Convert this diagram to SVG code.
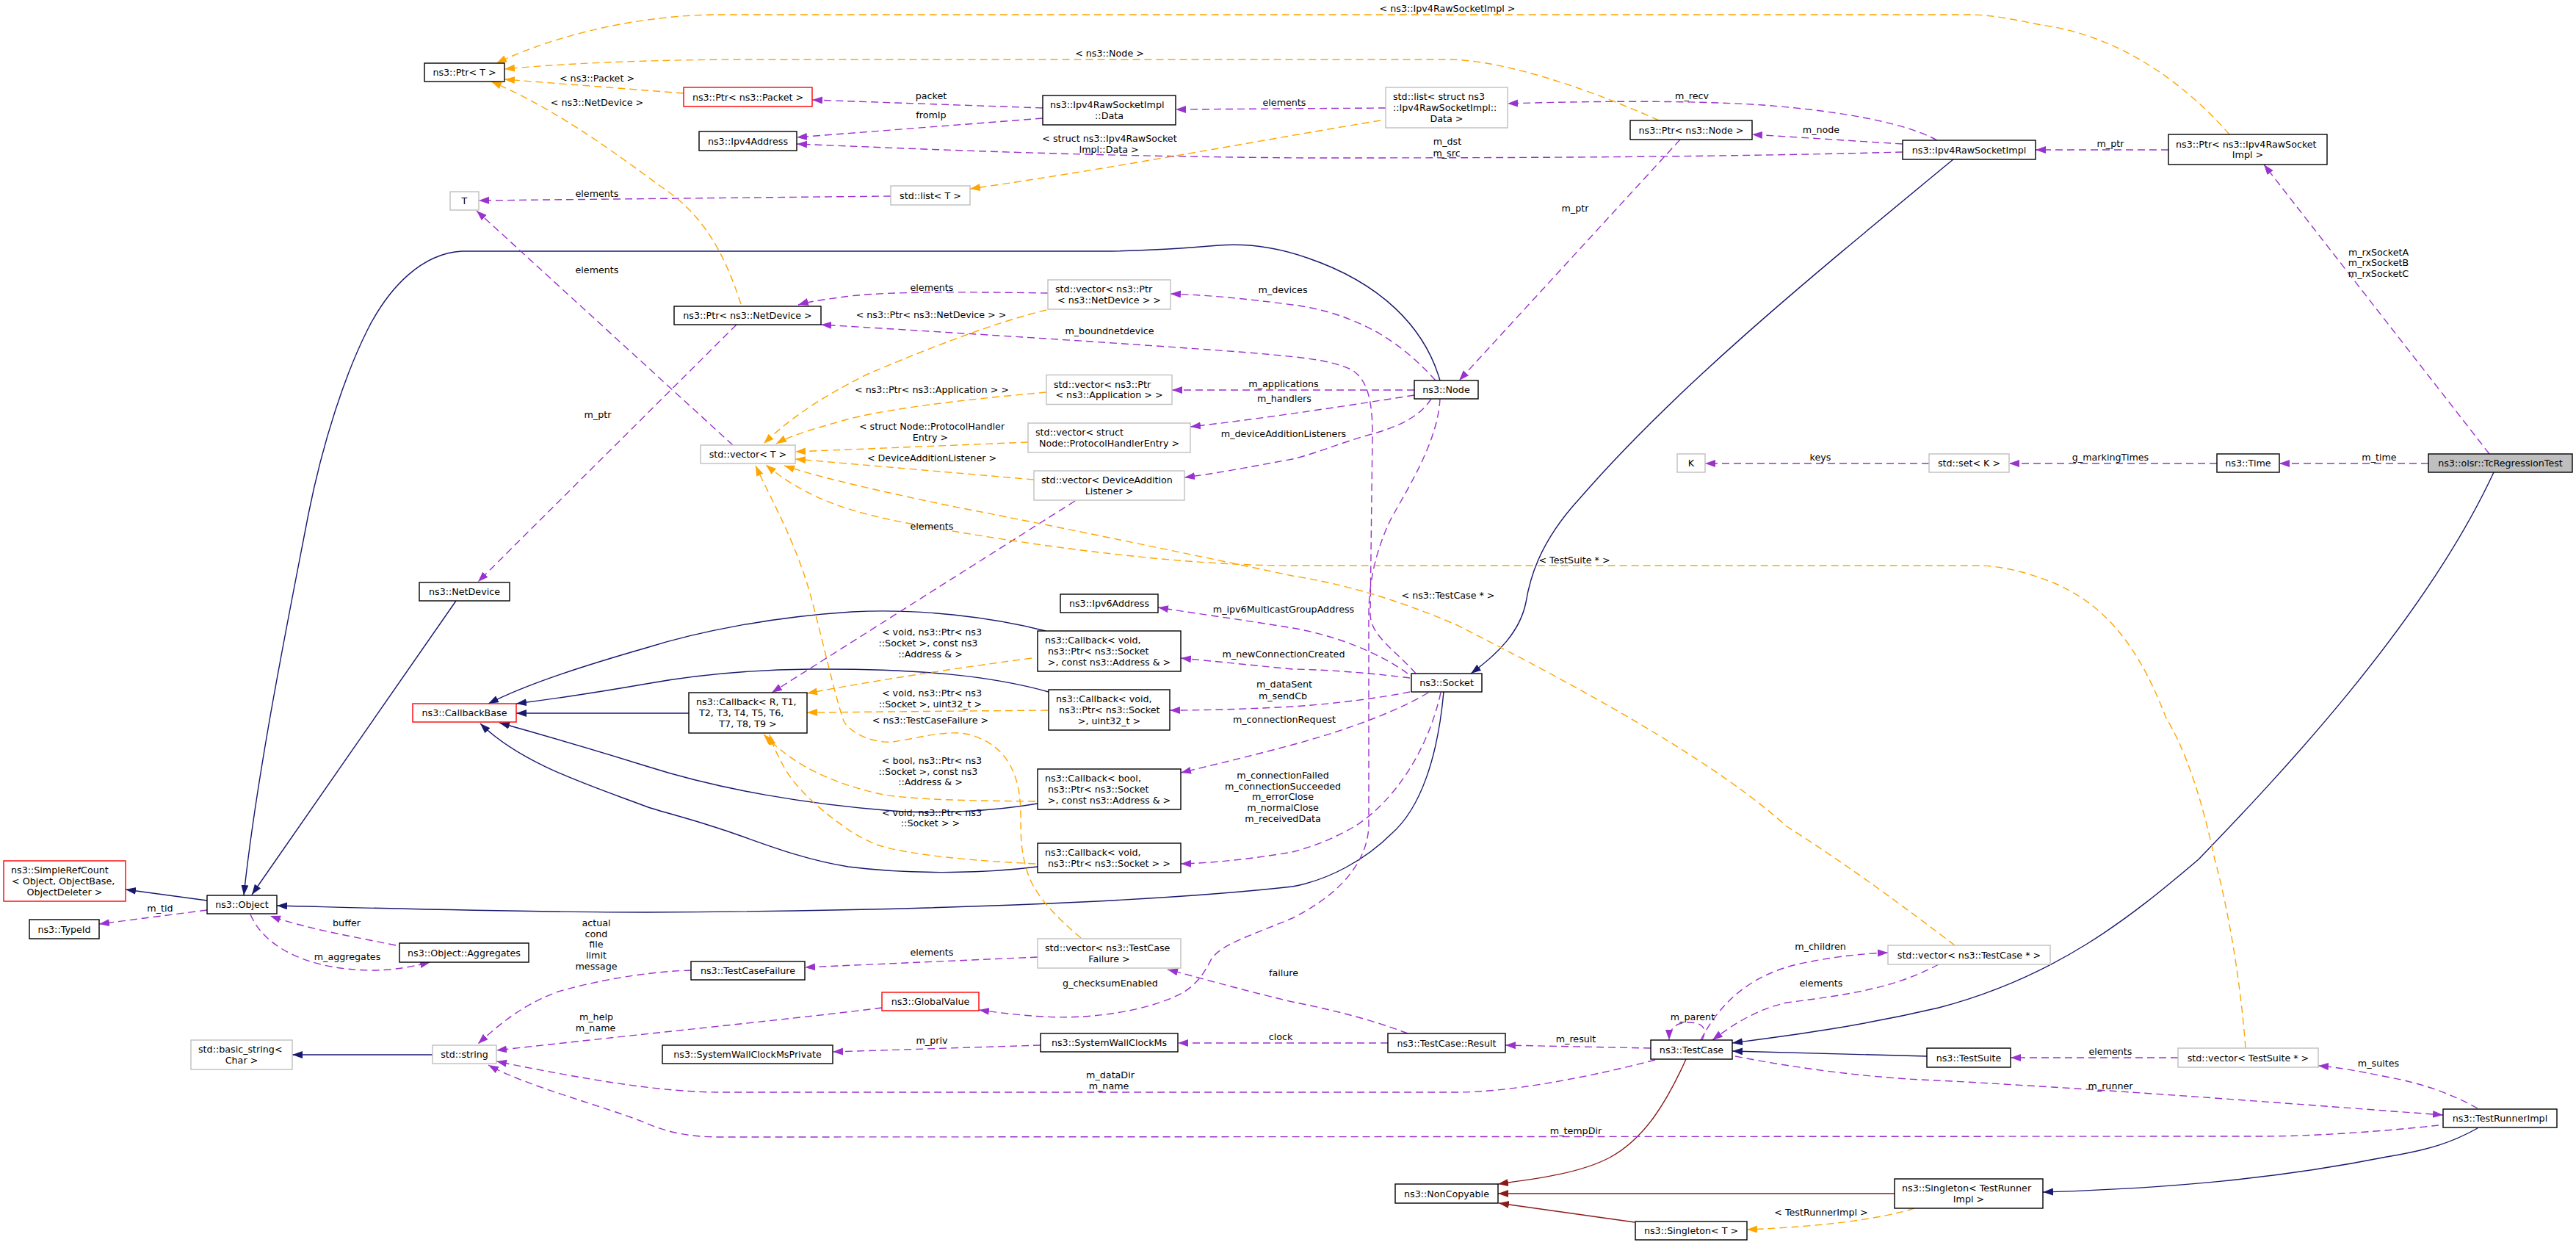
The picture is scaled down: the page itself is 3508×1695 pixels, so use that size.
<svg xmlns="http://www.w3.org/2000/svg" width="3508" height="1695" viewBox="0 0 3508 1695">
<style>
text{font-family:"DejaVu Sans","Liberation Sans",sans-serif;font-size:12.7px;fill:#000}
.n rect{fill:#fff;stroke:#000;stroke-width:1.4}
.g rect{fill:#fff;stroke:#bfbfbf;stroke-width:1.4}
.r rect{fill:#fff;stroke:#ff0000;stroke-width:1.4}
.c{text-anchor:middle}
#edges path{fill:none;stroke-width:1.4}
.inh{stroke:#191970;marker-end:url(#ab)}
.use{stroke:#9a32cd;stroke-dasharray:10,6;marker-end:url(#ap)}
.tpl{stroke:#ffa500;stroke-dasharray:10,6;marker-end:url(#ao)}
.prv{stroke:#8b1a1a;marker-end:url(#ar)}
#labels text{text-anchor:middle}
</style>
<defs>
<marker id="ab" markerUnits="userSpaceOnUse" markerWidth="15" markerHeight="11" refX="14" refY="5" orient="auto"><path d="M0,0L14,5L0,10z" fill="#191970"/></marker>
<marker id="ap" markerUnits="userSpaceOnUse" markerWidth="15" markerHeight="11" refX="14" refY="5" orient="auto"><path d="M0,0L14,5L0,10z" fill="#9a32cd"/></marker>
<marker id="ao" markerUnits="userSpaceOnUse" markerWidth="15" markerHeight="11" refX="14" refY="5" orient="auto"><path d="M0,0L14,5L0,10z" fill="#ffa500"/></marker>
<marker id="ar" markerUnits="userSpaceOnUse" markerWidth="15" markerHeight="11" refX="14" refY="5" orient="auto"><path d="M0,0L14,5L0,10z" fill="#8b1a1a"/></marker>
</defs>
<rect width="3508" height="1695" fill="#fff"/>
<g id="edges">
<path class="inh" d="M282,1226 L171,1211"/>
<path class="inh" d="M621,818 L343,1218"/>
<path class="inh" d="M1961,518 C1940,445 1880,385 1780,351 C1740,337 1700,331 1660,334 C1600,339 1550,342 1500,342 L629,342 C575,345 530,390 500,450 C470,510 440,600 420,700 C395,830 350,1050 332,1219"/>
<path class="inh" d="M1966,942 C1958,1030 1935,1100 1895,1135 C1860,1170 1810,1198 1760,1207 C1600,1225 1300,1240 880,1242 C700,1242 500,1236 377,1233"/>
<path class="inh" d="M2660,217 C2450,390 2280,530 2150,680 C2095,740 2083,790 2078,820 C2070,860 2040,890 2003,917"/>
<path class="inh" d="M3396,643 C3300,850 3100,1060 2994,1170 C2900,1250 2800,1330 2640,1372 C2520,1400 2420,1412 2359,1420"/>
<path class="inh" d="M2624,1438 L2359,1431"/>
<path class="inh" d="M3374,1536 C3340,1555 3310,1565 3250,1575 C3100,1605 2950,1618 2782,1623"/>
<path class="inh" d="M1424,859 C1350,840 1250,828 1160,833 C1050,840 950,860 880,882 C800,905 720,930 665,958"/>
<path class="inh" d="M1428,942 C1350,920 1250,910 1104,911 C1000,912 930,922 880,931 C800,945 750,952 703,958"/>
<path class="inh" d="M938,971 L703,971"/>
<path class="inh" d="M1413,1094 C1350,1105 1270,1108 1216,1104 C1100,1095 980,1075 880,1043 C800,1018 730,998 680,984"/>
<path class="inh" d="M1413,1180 C1350,1188 1250,1192 1155,1180 C1080,1168 1020,1140 970,1125 C930,1112 900,1105 880,1098 C800,1068 710,1040 654,985"/>
<path class="inh" d="M589,1436 L398,1436"/>
<path class="prv" d="M2296,1442 C2270,1500 2240,1550 2192,1576 C2150,1598 2090,1605 2040,1612"/>
<path class="prv" d="M2580,1625 L2040,1625"/>
<path class="prv" d="M2226,1664 L2041,1638"/>
<path class="use" d="M1420,147 L1106,136"/>
<path class="use" d="M1420,161 L1085,187"/>
<path class="use" d="M2591,207 C2400,212 2200,215 1780,215 C1500,213 1300,205 1085,196"/>
<path class="use" d="M2638,191 C2600,170 2520,152 2400,143 C2300,136 2150,138 2053,141"/>
<path class="use" d="M2591,196 L2386,183"/>
<path class="use" d="M2953,204 L2772,204"/>
<path class="use" d="M3390,618 L3083,224"/>
<path class="use" d="M3307,631 L3104,631"/>
<path class="use" d="M3019,631 L2736,631"/>
<path class="use" d="M2627,631 L2322,631"/>
<path class="use" d="M1887,147 L1601,149"/>
<path class="use" d="M1213,267 L652,273"/>
<path class="use" d="M998,606 L649,287"/>
<path class="use" d="M1003,442 L651,792"/>
<path class="use" d="M1427,399 C1300,397 1200,397 1150,404 C1120,408 1100,411 1087,415"/>
<path class="use" d="M1928,917 C1900,885 1866,865 1866,836 L1869,590 C1869,540 1860,515 1840,503 C1810,490 1780,487 1700,480 C1500,465 1250,450 1118,442"/>
<path class="use" d="M1955,518 C1930,490 1905,470 1880,455 C1840,432 1800,420 1760,415 C1700,407 1650,402 1594,400"/>
<path class="use" d="M1926,531 L1596,531"/>
<path class="use" d="M1926,538 C1850,550 1720,570 1621,581"/>
<path class="use" d="M1949,543 C1935,565 1910,580 1861,593 C1820,605 1790,618 1760,625 C1700,636 1660,644 1613,650"/>
<path class="use" d="M2288,190 L1987,518"/>
<path class="use" d="M1961,543 C1958,600 1920,660 1895,705 C1875,745 1864,790 1864,836 L1864,1125 C1862,1170 1830,1215 1760,1250 C1700,1275 1665,1285 1650,1305 C1640,1325 1630,1340 1610,1352 C1560,1378 1480,1388 1420,1384 C1385,1382 1355,1378 1333,1375"/>
<path class="use" d="M1917,917 C1880,890 1820,865 1760,855 C1700,845 1620,834 1577,827"/>
<path class="use" d="M1920,923 C1880,918 1820,912 1760,911 C1700,905 1650,900 1608,896"/>
<path class="use" d="M1920,942 C1880,950 1820,958 1760,962 C1700,965 1650,967 1593,967"/>
<path class="use" d="M1945,943 C1900,970 1830,995 1760,1014 C1700,1030 1650,1042 1608,1052"/>
<path class="use" d="M1962,943 C1945,1020 1900,1090 1845,1125 C1810,1145 1785,1153 1760,1160 C1700,1170 1650,1175 1608,1176"/>
<path class="use" d="M1464,682 L1051,943"/>
<path class="use" d="M1413,1303 L1096,1317"/>
<path class="use" d="M941,1321 C900,1322 830,1330 760,1350 C720,1365 690,1385 651,1421"/>
<path class="use" d="M1201,1372 C1100,1385 900,1405 676,1430"/>
<path class="use" d="M2254,1443 C2150,1470 2050,1487 1984,1487 L981,1487 C900,1487 800,1470 676,1445"/>
<path class="use" d="M3321,1532 C3250,1540 3150,1547 3083,1547 L981,1548 C930,1548 900,1538 880,1529 C820,1505 720,1480 665,1450"/>
<path class="use" d="M2248,1427 L2050,1423"/>
<path class="use" d="M1890,1420 L1604,1420"/>
<path class="use" d="M1917,1407 C1860,1385 1800,1372 1760,1364 C1680,1345 1630,1330 1590,1320"/>
<path class="use" d="M1417,1423 L1134,1432"/>
<path class="use" d="M282,1239 L135,1258"/>
<path class="use" d="M341,1245 C360,1290 420,1320 505,1321 C540,1321 565,1315 586,1310"/>
<path class="use" d="M539,1287 C480,1275 420,1265 368,1247"/>
<path class="use" d="M2316,1416 C2340,1370 2380,1325 2461,1310 C2500,1302 2540,1298 2571,1297"/>
<path class="use" d="M2640,1313 C2580,1345 2520,1354 2433,1365 C2390,1375 2360,1395 2332,1416"/>
<path class="use" d="M2318,1416 C2326,1400 2318,1392 2300,1392 C2282,1392 2273,1400 2273,1416"/>
<path class="use" d="M2363,1438 C2450,1455 2550,1468 2640,1471 C2900,1485 3150,1505 3327,1518"/>
<path class="use" d="M3374,1509 C3340,1490 3300,1475 3250,1466 C3210,1458 3185,1453 3157,1451"/>
<path class="use" d="M2966,1440 L2738,1440"/>
<path class="tpl" d="M931,127 L687,108"/>
<path class="tpl" d="M2259,164 C2180,128 2060,84 1978,81 L1000,81 C850,82 750,88 687,94"/>
<path class="tpl" d="M3036,183 C2990,130 2900,50 2780,34 C2740,26 2710,20 2684,20 L972,20 C850,22 740,55 676,86"/>
<path class="tpl" d="M1009,414 C985,340 955,290 900,254 C840,210 760,150 669,111"/>
<path class="tpl" d="M1880,164 C1750,185 1500,232 1321,257"/>
<path class="tpl" d="M1425,422 C1350,440 1250,480 1180,510 C1110,545 1070,575 1040,604"/>
<path class="tpl" d="M1425,534 C1300,545 1200,558 1150,572 C1100,586 1075,594 1057,604"/>
<path class="tpl" d="M1400,602 L1083,615"/>
<path class="tpl" d="M1408,653 L1083,625"/>
<path class="tpl" d="M2662,1287 C2600,1240 2520,1180 2433,1125 C2350,1050 2200,960 1984,851 C1900,815 1830,795 1760,784 C1600,750 1400,709 1300,690 C1180,665 1110,648 1068,634"/>
<path class="tpl" d="M3058,1427 C3050,1320 3030,1220 3016,1170 C2995,1070 2970,1010 2950,978 C2920,900 2880,830 2800,795 C2760,778 2720,770 2695,770 L1760,770 C1600,770 1400,742 1240,713 C1160,698 1100,680 1043,633"/>
<path class="tpl" d="M1472,1277 C1440,1250 1410,1220 1400,1190 C1390,1160 1390,1140 1390,1110 C1390,1060 1375,1015 1320,1000 C1290,993 1250,1005 1216,1010 C1190,1012 1160,1000 1149,982 C1135,940 1120,870 1105,815 C1085,740 1050,680 1029,634"/>
<path class="tpl" d="M1405,896 C1300,910 1200,925 1099,944"/>
<path class="tpl" d="M1427,967 L1099,970"/>
<path class="tpl" d="M1410,1091 C1300,1090 1230,1088 1194,1080 C1110,1060 1070,1030 1040,1000"/>
<path class="tpl" d="M1410,1176 C1330,1172 1240,1165 1194,1150 C1170,1140 1155,1130 1149,1125 C1120,1105 1085,1075 1068,1045 C1060,1030 1052,1015 1048,1000"/>
<path class="tpl" d="M2607,1645 C2560,1660 2480,1670 2379,1674"/>
</g>
<g id="labels">
<text x="1971" y="16">&lt; ns3::Ipv4RawSocketImpl &gt;</text>
<text x="1511" y="77">&lt; ns3::Node &gt;</text>
<text x="813" y="111">&lt; ns3::Packet &gt;</text>
<text x="813" y="144">&lt; ns3::NetDevice &gt;</text>
<text x="1268" y="134.5">packet</text>
<text x="1268" y="160.5">fromIp</text>
<text x="1749" y="143.5">elements</text>
<text x="2304" y="134.5">m_recv</text>
<text x="2480" y="181">m_node</text>
<text x="2874" y="200">m_ptr</text>
<text x="1511" y="192.8">&lt; struct ns3::Ipv4RawSocket</text>
<text x="1510" y="208">Impl::Data &gt;</text>
<text x="1971" y="197">m_dst</text>
<text x="1970" y="212.5">m_src</text>
<text x="813" y="268">elements</text>
<text x="2145" y="288">m_ptr</text>
<text x="3239" y="347.5">m_rxSocketA</text>
<text x="3239" y="362">m_rxSocketB</text>
<text x="3239" y="376.5">m_rxSocketC</text>
<text x="813" y="372">elements</text>
<text x="1269" y="396">elements</text>
<text x="1747" y="399">m_devices</text>
<text x="1268" y="432.5">&lt; ns3::Ptr&lt; ns3::NetDevice &gt; &gt;</text>
<text x="1511" y="455">m_boundnetdevice</text>
<text x="1269" y="534.5">&lt; ns3::Ptr&lt; ns3::Application &gt; &gt;</text>
<text x="1748" y="526.5">m_applications</text>
<text x="1749" y="546.5">m_handlers</text>
<text x="814" y="569">m_ptr</text>
<text x="1269" y="585.2">&lt; struct Node::ProtocolHandler</text>
<text x="1267" y="599.5">Entry &gt;</text>
<text x="1748" y="595">m_deviceAdditionListeners</text>
<text x="1269" y="628">&lt; DeviceAdditionListener &gt;</text>
<text x="2479" y="627">keys</text>
<text x="2874" y="627.3">g_markingTimes</text>
<text x="3240" y="627.3">m_time</text>
<text x="1269" y="720.5">elements</text>
<text x="2144" y="767">&lt; TestSuite * &gt;</text>
<text x="1972" y="815">&lt; ns3::TestCase * &gt;</text>
<text x="1748" y="833.5">m_ipv6MulticastGroupAddress</text>
<text x="1269" y="865">&lt; void, ns3::Ptr&lt; ns3</text>
<text x="1264" y="880">::Socket &gt;, const ns3</text>
<text x="1267" y="895">::Address &amp; &gt;</text>
<text x="1748" y="895">m_newConnectionCreated</text>
<text x="1749" y="936">m_dataSent</text>
<text x="1747" y="951.5">m_sendCb</text>
<text x="1269" y="948">&lt; void, ns3::Ptr&lt; ns3</text>
<text x="1267" y="963">::Socket &gt;, uint32_t &gt;</text>
<text x="1749" y="983.5">m_connectionRequest</text>
<text x="1267" y="984.5">&lt; ns3::TestCaseFailure &gt;</text>
<text x="1269" y="1040">&lt; bool, ns3::Ptr&lt; ns3</text>
<text x="1264" y="1055">::Socket &gt;, const ns3</text>
<text x="1267" y="1069">::Address &amp; &gt;</text>
<text x="1747" y="1060">m_connectionFailed</text>
<text x="1747" y="1075">m_connectionSucceeded</text>
<text x="1747" y="1089">m_errorClose</text>
<text x="1747" y="1104">m_normalClose</text>
<text x="1747" y="1119">m_receivedData</text>
<text x="1269" y="1110.5">&lt; void, ns3::Ptr&lt; ns3</text>
<text x="1267" y="1124.5">::Socket &gt; &gt;</text>
<text x="218" y="1240.5">m_tid</text>
<text x="472" y="1260.5">buffer</text>
<text x="812" y="1260.5">actual</text>
<text x="812" y="1275.5">cond</text>
<text x="812" y="1290">file</text>
<text x="812" y="1304.5">limit</text>
<text x="812" y="1320">message</text>
<text x="1269" y="1300.5">elements</text>
<text x="473" y="1307.3">m_aggregates</text>
<text x="1748" y="1328.5">failure</text>
<text x="1512" y="1343">g_checksumEnabled</text>
<text x="2479" y="1293">m_children</text>
<text x="2480" y="1343">elements</text>
<text x="2305" y="1388.5">m_parent</text>
<text x="812" y="1389">m_help</text>
<text x="811" y="1404">m_name</text>
<text x="1744" y="1416">clock</text>
<text x="1269" y="1420.5">m_priv</text>
<text x="2146" y="1419">m_result</text>
<text x="2874" y="1436">elements</text>
<text x="3239" y="1452">m_suites</text>
<text x="1512" y="1468">m_dataDir</text>
<text x="1510" y="1483">m_name</text>
<text x="2874" y="1483">m_runner</text>
<text x="2146" y="1544">m_tempDir</text>
<text x="2480" y="1654.5">&lt; TestRunnerImpl &gt;</text>
</g>
<g id="n_PtrT" class="n"><rect x="578" y="86" width="109" height="25"/><text class="c" x="632.5" y="103">ns3::Ptr&lt; T &gt;</text></g>
<g id="n_T" class="g"><rect x="613" y="261" width="39" height="25"/><text class="c" x="632.5" y="278">T</text></g>
<g id="n_PtrPacket" class="r"><rect x="931" y="119" width="175" height="26"/><text class="c" x="1018.5" y="136.5">ns3::Ptr&lt; ns3::Packet &gt;</text></g>
<g id="n_Ipv4Address" class="n"><rect x="952" y="179" width="133" height="26"/><text class="c" x="1018.5" y="196.5">ns3::Ipv4Address</text></g>
<g id="n_Data" class="n"><rect x="1420" y="130" width="181" height="40"/><text x="1430" y="147.2">ns3::Ipv4RawSocketImpl</text><text class="c" x="1510.5" y="161.9">::Data</text></g>
<g id="n_listT" class="g"><rect x="1213" y="253" width="108" height="26"/><text class="c" x="1267" y="270.5">std::list&lt; T &gt;</text></g>
<g id="n_listData" class="g"><rect x="1887" y="119" width="166" height="55"/><text x="1897" y="136.3">std::list&lt; struct ns3</text><text x="1897" y="151">::Ipv4RawSocketImpl::</text><text class="c" x="1970" y="165.7">Data &gt;</text></g>
<g id="n_PtrNode" class="n"><rect x="2220" y="164" width="166" height="26"/><text class="c" x="2303" y="181.5">ns3::Ptr&lt; ns3::Node &gt;</text></g>
<g id="n_Ipv4RawSocketImpl" class="n"><rect x="2591" y="191" width="181" height="26"/><text class="c" x="2681.5" y="208.5">ns3::Ipv4RawSocketImpl</text></g>
<g id="n_PtrIpv4Raw" class="n"><rect x="2953" y="183" width="216" height="41"/><text x="2963" y="200.6">ns3::Ptr&lt; ns3::Ipv4RawSocket</text><text class="c" x="3061" y="215.4">Impl &gt;</text></g>
<g id="n_PtrNetDevice" class="n"><rect x="918" y="417" width="200" height="25"/><text class="c" x="1018" y="434">ns3::Ptr&lt; ns3::NetDevice &gt;</text></g>
<g id="n_vecPtrNetDevice" class="g"><rect x="1427" y="381" width="167" height="40"/><text x="1437" y="398.2">std::vector&lt; ns3::Ptr</text><text class="c" x="1510.5" y="412.9">&lt; ns3::NetDevice &gt; &gt;</text></g>
<g id="n_vecPtrApp" class="g"><rect x="1425" y="510.5" width="171" height="40"/><text x="1435" y="527.7">std::vector&lt; ns3::Ptr</text><text class="c" x="1510.5" y="542.4">&lt; ns3::Application &gt; &gt;</text></g>
<g id="n_Node" class="n"><rect x="1926" y="518" width="87" height="25"/><text class="c" x="1969.5" y="535">ns3::Node</text></g>
<g id="n_vecT" class="g"><rect x="954" y="606" width="129" height="25"/><text class="c" x="1018.5" y="623">std::vector&lt; T &gt;</text></g>
<g id="n_vecPHE" class="g"><rect x="1400" y="576" width="221" height="40"/><text x="1410" y="593.2">std::vector&lt; struct</text><text class="c" x="1510.5" y="607.9">Node::ProtocolHandlerEntry &gt;</text></g>
<g id="n_vecDAL" class="g"><rect x="1408" y="641" width="205" height="40"/><text x="1418" y="658.2">std::vector&lt; DeviceAddition</text><text class="c" x="1510.5" y="672.9">Listener &gt;</text></g>
<g id="n_K" class="g"><rect x="2284" y="618" width="38" height="25"/><text class="c" x="2303" y="635">K</text></g>
<g id="n_setK" class="g"><rect x="2627" y="618" width="109" height="25"/><text class="c" x="2681.5" y="635">std::set&lt; K &gt;</text></g>
<g id="n_Time" class="n"><rect x="3019" y="618" width="85" height="25"/><text class="c" x="3061.5" y="635">ns3::Time</text></g>
<g id="n_TcRegressionTest" class="n"><rect x="3307" y="618" width="196" height="25" style="fill:#bfbfbf"/><text class="c" x="3405" y="635">ns3::olsr::TcRegressionTest</text></g>
<g id="n_NetDevice" class="n"><rect x="571" y="793" width="123" height="25"/><text class="c" x="632.5" y="810">ns3::NetDevice</text></g>
<g id="n_Ipv6Address" class="n"><rect x="1444" y="809" width="133" height="25"/><text class="c" x="1510.5" y="826">ns3::Ipv6Address</text></g>
<g id="n_CbVoidAddr" class="n"><rect x="1413" y="859" width="195" height="55"/><text x="1423" y="876.3">ns3::Callback&lt; void,</text><text x="1427" y="891">ns3::Ptr&lt; ns3::Socket</text><text class="c" x="1510.5" y="905.7">&gt;, const ns3::Address &amp; &gt;</text></g>
<g id="n_Socket" class="n"><rect x="1922" y="917" width="96" height="25"/><text class="c" x="1970" y="934">ns3::Socket</text></g>
<g id="n_CallbackBase" class="r"><rect x="562" y="958" width="141" height="25"/><text class="c" x="632.5" y="975">ns3::CallbackBase</text></g>
<g id="n_CbR" class="n"><rect x="938" y="943" width="161" height="55"/><text x="948" y="960.3">ns3::Callback&lt; R, T1,</text><text x="952" y="975">T2, T3, T4, T5, T6,</text><text class="c" x="1018.5" y="989.7">T7, T8, T9 &gt;</text></g>
<g id="n_CbVoidU32" class="n"><rect x="1428" y="939" width="165" height="55"/><text x="1438" y="956.3">ns3::Callback&lt; void,</text><text x="1442" y="971">ns3::Ptr&lt; ns3::Socket</text><text class="c" x="1510.5" y="985.7">&gt;, uint32_t &gt;</text></g>
<g id="n_CbBool" class="n"><rect x="1413" y="1047" width="195" height="55"/><text x="1423" y="1064.3">ns3::Callback&lt; bool,</text><text x="1427" y="1079">ns3::Ptr&lt; ns3::Socket</text><text class="c" x="1510.5" y="1093.7">&gt;, const ns3::Address &amp; &gt;</text></g>
<g id="n_CbVoidSock" class="n"><rect x="1413" y="1148" width="195" height="40"/><text x="1423" y="1165.2">ns3::Callback&lt; void,</text><text class="c" x="1510.5" y="1179.9">ns3::Ptr&lt; ns3::Socket &gt; &gt;</text></g>
<g id="n_SimpleRefCount" class="r"><rect x="5" y="1172" width="166" height="55"/><text x="15" y="1189.3">ns3::SimpleRefCount</text><text x="16" y="1204">&lt; Object, ObjectBase,</text><text class="c" x="88" y="1218.7">ObjectDeleter &gt;</text></g>
<g id="n_Object" class="n"><rect x="282" y="1219" width="95" height="25"/><text class="c" x="329.5" y="1236">ns3::Object</text></g>
<g id="n_TypeId" class="n"><rect x="40" y="1252" width="95" height="26"/><text class="c" x="87.5" y="1269.5">ns3::TypeId</text></g>
<g id="n_Aggregates" class="n"><rect x="544" y="1284" width="176" height="26"/><text class="c" x="632" y="1301.5">ns3::Object::Aggregates</text></g>
<g id="n_vecTCF" class="g"><rect x="1413" y="1278" width="195" height="40"/><text x="1423" y="1295.2">std::vector&lt; ns3::TestCase</text><text class="c" x="1510.5" y="1309.9">Failure &gt;</text></g>
<g id="n_TestCaseFailure" class="n"><rect x="941" y="1309" width="155" height="25"/><text class="c" x="1018.5" y="1326">ns3::TestCaseFailure</text></g>
<g id="n_GlobalValue" class="r"><rect x="1201" y="1351" width="132" height="25"/><text class="c" x="1267" y="1368">ns3::GlobalValue</text></g>
<g id="n_basic_string" class="g"><rect x="260" y="1416" width="138" height="40"/><text x="270" y="1433.2">std::basic_string&lt;</text><text class="c" x="329" y="1447.9">Char &gt;</text></g>
<g id="n_string" class="g"><rect x="589" y="1423" width="87" height="25"/><text class="c" x="632.5" y="1440">std::string</text></g>
<g id="n_SWCMPrivate" class="n"><rect x="902" y="1423" width="232" height="25"/><text class="c" x="1018" y="1440">ns3::SystemWallClockMsPrivate</text></g>
<g id="n_SWCM" class="n"><rect x="1417" y="1407" width="187" height="25"/><text class="c" x="1510.5" y="1424">ns3::SystemWallClockMs</text></g>
<g id="n_Result" class="n"><rect x="1890" y="1407" width="160" height="26"/><text class="c" x="1970" y="1424.5">ns3::TestCase::Result</text></g>
<g id="n_TestCase" class="n"><rect x="2248" y="1416" width="111" height="26"/><text class="c" x="2303.5" y="1433.5">ns3::TestCase</text></g>
<g id="n_vecTestCase" class="g"><rect x="2571" y="1287" width="221" height="26"/><text class="c" x="2681.5" y="1304.5">std::vector&lt; ns3::TestCase * &gt;</text></g>
<g id="n_TestSuite" class="n"><rect x="2624" y="1427" width="114" height="26"/><text class="c" x="2681" y="1444.5">ns3::TestSuite</text></g>
<g id="n_vecTestSuite" class="g"><rect x="2966" y="1427" width="191" height="26"/><text class="c" x="3061.5" y="1444.5">std::vector&lt; TestSuite * &gt;</text></g>
<g id="n_TestRunnerImpl" class="n"><rect x="3327" y="1510" width="155" height="25"/><text class="c" x="3404.5" y="1527">ns3::TestRunnerImpl</text></g>
<g id="n_NonCopyable" class="n"><rect x="1900" y="1612" width="140" height="26"/><text class="c" x="1970" y="1629.5">ns3::NonCopyable</text></g>
<g id="n_SingletonTRI" class="n"><rect x="2580" y="1605" width="202" height="40"/><text x="2590" y="1622.2">ns3::Singleton&lt; TestRunner</text><text class="c" x="2681" y="1636.9">Impl &gt;</text></g>
<g id="n_SingletonT" class="n"><rect x="2227" y="1663" width="152" height="25"/><text class="c" x="2303" y="1680">ns3::Singleton&lt; T &gt;</text></g>
</svg>
